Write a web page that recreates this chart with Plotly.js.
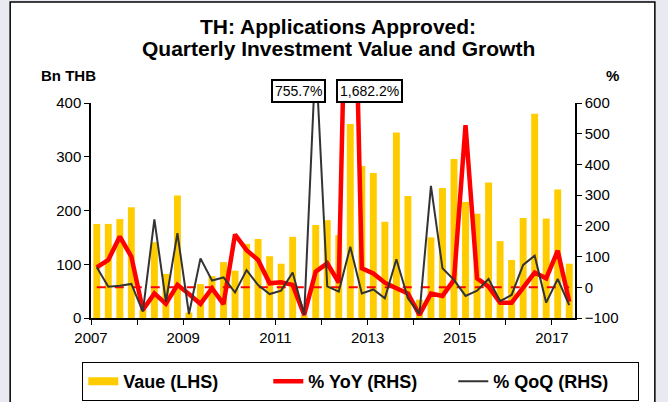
<!DOCTYPE html>
<html>
<head>
<meta charset="utf-8">
<script src="https://cdn.plot.ly/plotly-3.0.1.min.js"></script>
<style>
  html, body { margin: 0; padding: 0; background: #ffffff; }
  #plot { width: 668px; height: 402px; }
</style>
</head>
<body>
<div id="plot"></div>
<script>
// quarters 2007Q1 .. 2017Q2
let firstYear = 2007;
let nQuarters = 42;

// investment value, Bn THB (LHS)
let value = [175, 175, 184, 206, 15, 141, 82, 228, 10, 63,
             78, 104, 88, 138, 147, 115, 101, 151, 5, 173,
             182, 154, 361, 283, 270, 179, 345, 227, 34, 150,
             242, 296, 216, 194, 252, 143, 108, 186, 380, 185,
             239, 101];

// % YoY (RHS)
let yoy = [65, 89, 165, 100, -74, -20, -54, 8, -22, -54,
           -3, -55, 172, 121, 89, 13, 16, 8, -90, 51,
           78, 15, 1682.2, 62, 45, 15, -3, -20, -90, -20,
           -28, 24, 528, 29, 2, -50, -50, -3, 48, 29,
           119, -47];

// % QoQ (RHS)
let qoq = [65, 2, 5, 11, -79, 221, -47, 176, -87, 94,
           22, 32, -17, 56, 7, -22, -11, 48, -90, 755.7,
           3, -14, 132, -20, -7, -36, 91, -36, -87, 330,
           62, 24, -28, -11, 27, -45, -25, 73, 103, -50,
           27, -58];

let yearTicks = [2007, 2008, 2009, 2010, 2011, 2012, 2013, 2014, 2015, 2016, 2017];
let yearLabels = ["2007", "", "2009", "", "2011", "", "2013", "", "2015", "", "2017"];

// each quarter sits in the middle of its slot on a year axis
let xq = [];
for (let i = 0; i < nQuarters; i++) {
    xq.push(firstYear + (i + 0.5) / 4);
}
let zeroLine = xq.map(() => 0);

let font = "Liberation Sans, Arial, sans-serif";

let barTrace = {
    x: xq, y: value, type: "bar", name: "Vaue (LHS)",
    width: 0.15,
    marker: {color: "#FFCC00"},
    showlegend: false,
    hoverinfo: "x+y"
};

// legend stand-in so the bar swatch is a wide strip like the original
let barLegend = {
    x: [null], y: [null], type: "scatter", mode: "lines",
    name: "Vaue (LHS)",
    line: {color: "#FFCC00", width: 8}
};

let zeroTrace = {
    x: xq, y: zeroLine, yaxis: "y2", type: "scatter", mode: "lines",
    line: {color: "#FF0000", width: 2, dash: "dash"},
    showlegend: false, hoverinfo: "skip"
};

let yoyTrace = {
    x: xq, y: yoy, yaxis: "y2", type: "scatter", mode: "lines",
    name: "% YoY (RHS)",
    line: {color: "#FF0000", width: 4.5}
};

let qoqTrace = {
    x: xq, y: qoq, yaxis: "y2", type: "scatter", mode: "lines",
    name: "% QoQ (RHS)",
    line: {color: "#333333", width: 2}
};

let data = [barTrace, zeroTrace, barLegend, yoyTrace, qoqTrace];

let boxNote = (text, x) => ({
    text: text, xref: "x", yref: "paper", x: x, y: 1.058,
    xanchor: "center", yanchor: "middle",
    showarrow: false, bgcolor: "#ffffff",
    bordercolor: "#000000", borderwidth: 2, borderpad: 2,
    font: {family: font, size: 14, color: "#000000"}
});

let layout = {
    width: 668, height: 402,
    paper_bgcolor: "#e9e9f1",
    plot_bgcolor: "rgba(0,0,0,0)",
    margin: {l: 91, r: 93, t: 103, b: 84, autoexpand: false},
    font: {family: font, size: 15, color: "#000000"},
    title: {
        text: "<b>TH: Applications Approved:</b>",
        font: {family: font, size: 21, color: "#000000"},
        x: 0.506, xref: "container", xanchor: "center",
        y: 1 - 27 / 402, yref: "container", yanchor: "middle"
    },
    xaxis: {
        range: [2007, 2017.5],
        tickvals: yearTicks, ticktext: yearLabels,
        ticks: "outside", ticklen: 5, tickcolor: "#000000",
        showline: true, linecolor: "#000000", linewidth: 1.5,
        showgrid: false, zeroline: false,
        tickfont: {family: font, size: 15}
    },
    yaxis: {
        range: [0, 400], dtick: 100,
        ticks: "outside", ticklen: 5, tickcolor: "#000000",
        showline: true, linecolor: "#000000", linewidth: 1.5,
        showgrid: false, zeroline: false,
        tickfont: {family: font, size: 15}
    },
    yaxis2: {
        range: [-100, 600], dtick: 100,
        overlaying: "y", side: "right",
        ticks: "outside", ticklen: 5, tickcolor: "#000000",
        showline: true, linecolor: "#000000", linewidth: 1.5,
        showgrid: false, zeroline: false,
        tickfont: {family: font, size: 15}
    },
    barmode: "overlay",
    legend: {
        orientation: "h",
        x: -0.018, xanchor: "left", xref: "paper",
        y: -0.205, yanchor: "top", yref: "paper",
        bordercolor: "#000000", borderwidth: 1,
        bgcolor: "#ffffff",
        entrywidth: 140,
        font: {family: font, size: 18, weight: "bold", color: "#000000"}
    },
    shapes: [{
        type: "rect", xref: "paper", yref: "paper", layer: "below",
        x0: -0.167, x1: 1.165, y0: -0.5, y1: 1.47,
        fillcolor: "#ffffff", line: {color: "#000000", width: 1.5}
    }],
    annotations: [
        {text: "<b>Quarterly Investment Value and Growth</b>",
         xref: "paper", yref: "paper", x: (338 - 91) / 484, y: (318 - 48) / 215,
         xanchor: "center", yanchor: "middle", showarrow: false,
         font: {family: font, size: 21}},
        boxNote("755.7%", 2011.5),
        boxNote("1,682.2%", 2013.04),
        {text: "<b>Bn THB</b>", xref: "paper", yref: "paper", x: -0.046, y: 1.13,
         xanchor: "center", yanchor: "middle",
         showarrow: false, font: {family: font, size: 15}},
        {text: "<b>%</b>", xref: "paper", yref: "paper", x: 1.0765, y: 1.13,
         xanchor: "center", yanchor: "middle",
         showarrow: false, font: {family: font, size: 15}}
    ]
};

Plotly.newPlot("plot", data, layout, {displayModeBar: false});
</script>
</body>
</html>
